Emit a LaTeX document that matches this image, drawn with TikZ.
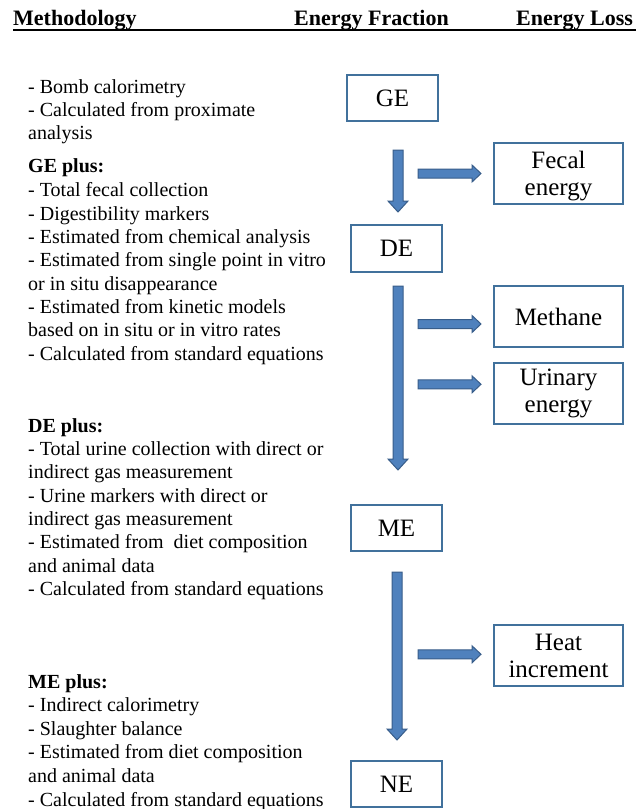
\documentclass[tikz,border=0pt]{standalone}
\usepackage{fontspec}
\setmainfont{Liberation Serif}
\usetikzlibrary{calc}
\definecolor{boxblue}{HTML}{41719C}
\definecolor{arrfill}{HTML}{4F81BD}
\definecolor{arrline}{HTML}{385D8A}
\newcommand\myvarrow[2]{\filldraw[blockarrow] let \p1=(#1), \p2=(#2) in
  (\x1-5pt,\y1) -- (\x1+5pt,\y1) -- (\x1+5pt,\y2+11pt) -- (\x1+10pt,\y2+11pt) --
  (\x1,\y2) -- (\x1-10pt,\y2+11pt) -- (\x1-5pt,\y2+11pt) -- cycle;}
\newcommand\myharrow[2]{\filldraw[blockarrow] let \p1=(#1), \p2=(#2) in
  (\x1,\y1+4.5pt) -- (\x2-9pt,\y1+4.5pt) -- (\x2-9pt,\y1+8.5pt) -- (\x2,\y1) --
  (\x2-9pt,\y1-8.5pt) -- (\x2-9pt,\y1-4.5pt) -- (\x1,\y1-4.5pt) -- cycle;}
\begin{document}
\begin{tikzpicture}[x=1pt,y=-1pt,
  body/.style={anchor=base west, inner sep=0pt, font=\fontsize{20}{23}\selectfont},
  bhead/.style={body, font=\fontsize{20}{23}\selectfont\bfseries},
  colhead/.style={anchor=base west, inner sep=0pt, font=\fontsize{22}{26}\selectfont\bfseries},
  fracbox/.style={draw=boxblue, line width=2pt, minimum width=91pt, minimum height=46pt, inner sep=0pt, font=\fontsize{25}{27}\selectfont},
  lossbox/.style={draw=boxblue, line width=2pt, minimum width=129pt, minimum height=61pt, inner sep=0pt, align=center, font=\fontsize{25}{27}\selectfont},
  blockarrow/.style={fill=arrfill, draw=arrline, line width=1pt, line join=miter}
]
\useasboundingbox (0,0) rectangle (636,809);
\fill[white] (0,0) rectangle (636,809);

% column headers
\node[colhead] (h1) at (13,25) {Methodology};
\node[colhead] (h2) at (294,25) {Energy Fraction};
\node[colhead] (h3) at (516,25) {Energy Loss};
\coordinate (ul1) at (13,30);
\coordinate (ul2) at (636,30);
\draw[line width=2pt] (ul1) -- (ul2);

% methodology text
\node[body] (t1) at (28,93) {- Bomb calorimetry};
\node[body] (t2) at (28,116.3) {- Calculated from proximate};
\node[body] (t3) at (28,139.6) {analysis};

\node[bhead] (t4) at (28,172.2) {GE plus:};
\node[body] (t5) at (28,196.7) {- Total fecal collection};
\node[body] (t6) at (28,220) {- Digestibility markers};
\node[body] (t7) at (28,243.3) {- Estimated from chemical analysis};
\node[body] (t8) at (28,266.7) {- Estimated from single point in vitro};
\node[body] (t9) at (28,290) {or in situ disappearance};
\node[body] (t10) at (28,313.3) {- Estimated from kinetic models};
\node[body] (t11) at (28,336.7) {based on in situ or in vitro rates};
\node[body] (t12) at (28,360) {- Calculated from standard equations};

\node[bhead] (t13) at (28,432) {DE plus:};
\node[body] (t14) at (28,455.5) {- Total urine collection with direct or};
\node[body] (t15) at (28,478.8) {indirect gas measurement};
\node[body] (t16) at (28,502.2) {- Urine markers with direct or};
\node[body] (t17) at (28,525.5) {indirect gas measurement};
\node[body] (t18) at (28,548.8) {- Estimated from\ \ diet composition};
\node[body] (t19) at (28,572.2) {and animal data};
\node[body] (t20) at (28,595.5) {- Calculated from standard equations};

\node[bhead] (t21) at (28,688.3) {ME plus:};
\node[body] (t22) at (28,711.7) {- Indirect calorimetry};
\node[body] (t23) at (28,735.2) {- Slaughter balance};
\node[body] (t24) at (28,758.9) {- Estimated from diet composition};
\node[body] (t25) at (28,782.5) {and animal data};
\node[body] (t26) at (28,806) {- Calculated from standard equations};

% energy fraction boxes
\node[fracbox] (GE) at (392.5,98) {GE};
\node[fracbox, minimum height=47pt] (DE) at (396.5,248.5) {DE};
\node[fracbox] (ME) at (396.5,528) {ME};
\node[fracbox] (NE) at (396.5,784) {NE};

% energy loss boxes
\node[lossbox] (FE) at (558.5,173.5) {\rule{0pt}{21.5pt}Fecal\\energy};
\node[lossbox] (CH) at (558.5,316.5) {Methane};
\node[lossbox] (UE) at (558.5,393) {Urinary\\energy};
\node[lossbox] (HI) at (558.5,655.5) {Heat\\increment};

% arrow end points
\coordinate (v1s) at (398,150);   \coordinate (v1e) at (398,212);
\coordinate (v2s) at (398,286);   \coordinate (v2e) at (398,470);
\coordinate (v3s) at (397,572);   \coordinate (v3e) at (397,740);
\coordinate (f1s) at (418,173.5); \coordinate (f1e) at (481,173.5);
\coordinate (f2s) at (418,324);   \coordinate (f2e) at (481,324);
\coordinate (f3s) at (418,384.3); \coordinate (f3e) at (481,384.3);
\coordinate (f4s) at (418,654.3); \coordinate (f4e) at (481,654.3);

\myvarrow{v1s}{v1e}
\myvarrow{v2s}{v2e}
\myvarrow{v3s}{v3e}
\myharrow{f1s}{f1e}
\myharrow{f2s}{f2e}
\myharrow{f3s}{f3e}
\myharrow{f4s}{f4e}
\end{tikzpicture}
\end{document}
